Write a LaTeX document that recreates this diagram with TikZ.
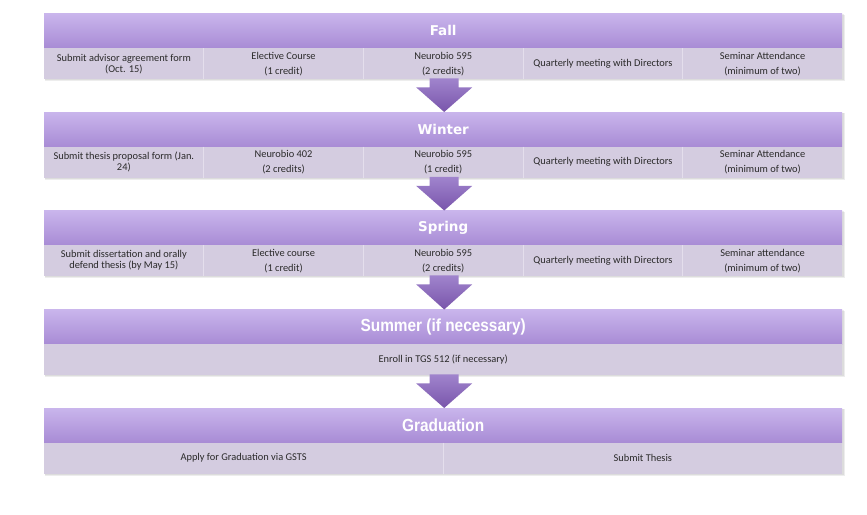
\documentclass[tikz,border=0pt]{standalone}
\usepackage{fontspec}
\setmainfont{Carlito}
\newfontfamily\hdfont{DejaVu Sans}
\newfontfamily\hdnarrow[FakeStretch=0.88]{Liberation Sans}
\usetikzlibrary{calc}
\definecolor{hdtop}{HTML}{C9B5EC}
\definecolor{hdbot}{HTML}{A88BD5}
\definecolor{rowfill}{HTML}{D4CCE0}
\definecolor{divline}{HTML}{E4DEEC}
\definecolor{arrtop}{HTML}{A084CD}
\definecolor{arrbot}{HTML}{7955AB}
\definecolor{txt}{HTML}{2A2A2A}
\begin{document}
\begin{tikzpicture}[x=1pt,y=-1pt,
  header/.style={minimum width=798pt, minimum height=34.5pt, inner sep=0pt,
    top color=hdtop, bottom color=hdbot, anchor=north west},
  rowbox/.style={minimum width=798pt, minimum height=31pt, inner sep=0pt,
    fill=rowfill, anchor=north west},
  cell/.style={font=\fontsize{10.4}{15}\selectfont, text=txt, align=center, inner sep=0pt},
  celltight/.style={cell, font=\fontsize{10.4}{11}\selectfont},
  title/.style={font=\hdfont\bfseries\fontsize{13.5}{15}\selectfont, text=white},
  titlenarrow/.style={font=\hdnarrow\bfseries\fontsize{17.5}{19}\selectfont, text=white},
  shadowbox/.style={fill=black, opacity=0.07},
  divider/.style={draw=divline, line width=0.8pt},
  blockarrow/.style={top color=arrtop, bottom color=arrbot}
]
\useasboundingbox (0,0) rectangle (867,514);
\fill[white] (0,0) rectangle (867,514);

% soft shadows
\foreach \t in {13.5,112,210.5,309.5,408}{
  \fill[shadowbox] (45,\t+1) rectangle (845,\t+67.5);
  \fill[shadowbox] (44.5,\t+0.5) rectangle (843.5,\t+66.5);
}

% ---------- Fall ----------
\node[header] (hF) at (44,13.5) {};
\node[title] (tF) at (hF.center) {Fall};
\node[rowbox] (rF) at (44,48) {};
\foreach \f in {0.2,0.4,0.6,0.8}
  \draw[divider] ($(rF.north west)!\f!(rF.north east)$) -- ($(rF.south west)!\f!(rF.south east)$);
\node[celltight] (f1) at ($(rF.west)!0.1!(rF.east)$) {Submit advisor agreement form\\(Oct. 15)};
\node[cell] (f2) at ($(rF.west)!0.3!(rF.east)$) {Elective Course\\(1 credit)};
\node[cell] (f3) at ($(rF.west)!0.5!(rF.east)$) {Neurobio 595\\(2 credits)};
\node[cell] (f4) at ($(rF.west)!0.7!(rF.east)$) {Quarterly meeting with Directors};
\node[cell] (f5) at ($(rF.west)!0.9!(rF.east)$) {Seminar Attendance\\(minimum of two)};

% ---------- Winter ----------
\node[header] (hW) at (44,112) {};
\node[title] (tW) at (hW.center) {Winter};
\node[rowbox] (rW) at (44,146.5) {};
\foreach \f in {0.2,0.4,0.6,0.8}
  \draw[divider] ($(rW.north west)!\f!(rW.north east)$) -- ($(rW.south west)!\f!(rW.south east)$);
\node[celltight] (w1) at ($(rW.west)!0.1!(rW.east)$) {Submit thesis proposal form (Jan.\\24)};
\node[cell] (w2) at ($(rW.west)!0.3!(rW.east)$) {Neurobio 402\\(2 credits)};
\node[cell] (w3) at ($(rW.west)!0.5!(rW.east)$) {Neurobio 595\\(1 credit)};
\node[cell] (w4) at ($(rW.west)!0.7!(rW.east)$) {Quarterly meeting with Directors};
\node[cell] (w5) at ($(rW.west)!0.9!(rW.east)$) {Seminar Attendance\\(minimum of two)};

% ---------- Spring ----------
\node[header] (hS) at (44,210.5) {};
\node[title] (tS) at (hS.center) {Spring};
\node[rowbox] (rS) at (44,245) {};
\foreach \f in {0.2,0.4,0.6,0.8}
  \draw[divider] ($(rS.north west)!\f!(rS.north east)$) -- ($(rS.south west)!\f!(rS.south east)$);
\node[celltight] (s1) at ($(rS.west)!0.1!(rS.east)$) {Submit dissertation and orally\\defend thesis (by May 15)};
\node[cell] (s2) at ($(rS.west)!0.3!(rS.east)$) {Elective course\\(1 credit)};
\node[cell] (s3) at ($(rS.west)!0.5!(rS.east)$) {Neurobio 595\\(2 credits)};
\node[cell] (s4) at ($(rS.west)!0.7!(rS.east)$) {Quarterly meeting with Directors};
\node[cell] (s5) at ($(rS.west)!0.9!(rS.east)$) {Seminar attendance\\(minimum of two)};

% ---------- Summer ----------
\node[header] (hU) at (44,309.5) {};
\node[titlenarrow] (tU) at (hU.center) {Summer (if necessary)};
\node[rowbox] (rU) at (44,344) {};
\node[cell] (u1) at (rU.center) {Enroll in TGS 512 (if necessary)};

% ---------- Graduation ----------
\node[header] (hG) at (44,408) {};
\node[titlenarrow] (tG) at (hG.center) {Graduation};
\node[rowbox] (rG) at (44,442.5) {};
\draw[divider] (rG.north) -- (rG.south);
\node[cell] (g1) at ($(rG.west)!0.25!(rG.east)$) {Apply for Graduation via GSTS};
\node[cell] (g2) at ($(rG.west)!0.75!(rG.east)$) {Submit Thesis};

% ---------- block arrows ----------
\foreach \r/\h in {rF/hW, rW/hS, rS/hU, rU/hG}{
  \shade[blockarrow]
    ($(\r.south)+(-13.5,-1)$) -- ($(\r.south)+(15.5,-1)$) --
    ($(\r.south)+(15.5,8)$) -- ($(\r.south)+(29,8)$) --
    ($(\h.north)+(1,0)$) --
    ($(\r.south)+(-27,8)$) -- ($(\r.south)+(-13.5,8)$) -- cycle;
}
\end{tikzpicture}
\end{document}
